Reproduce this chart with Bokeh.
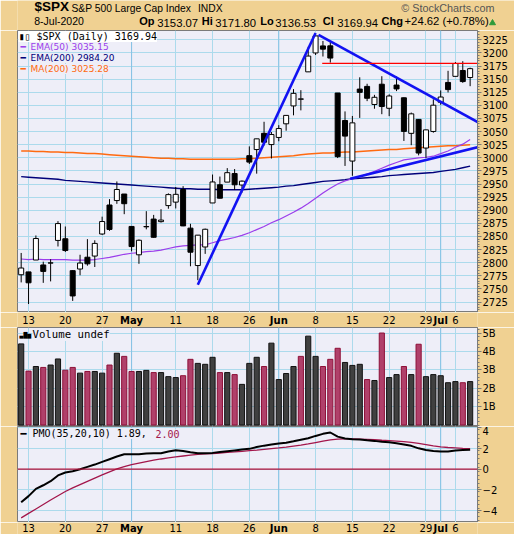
import numpy as np
from bokeh.plotting import figure
from bokeh.layouts import column
from bokeh.models import FixedTicker, Label, Span, Range1d
from bokeh.embed import file_html
from bokeh.resources import INLINE
from bokeh.core.properties import value

# ---------------- data ----------------
opens = [2776.99, 2782.46, 2805.10, 2795.64, 2799.34, 2842.43, 2845.62, 2784.81, 2787.89, 2810.42,
         2812.64, 2854.65, 2909.96, 2918.46, 2930.91, 2869.09, 2815.01, 2868.88, 2883.14, 2878.26,
         2908.83, 2915.46, 2939.50, 2865.86, 2794.54, 2829.95, 2913.86, 2948.59, 2953.63, 2969.95,
         2948.05, 3004.08, 3015.65, 3046.61, 3025.17, 3038.78, 3064.78, 3098.90, 3111.56, 3163.84,
         3199.92, 3213.32, 3213.42, 3123.53, 3071.04, 2993.76, 3131.00, 3136.13, 3101.64, 3140.29,
         3094.42, 3138.70, 3114.40, 3046.60, 3073.20, 3018.59, 3050.20, 3105.92, 3143.64, 3155.29,
         3166.44, 3153.07]
highs = [2818.57, 2782.46, 2851.85, 2801.88, 2806.51, 2879.22, 2868.98, 2785.54, 2815.10, 2844.90,
         2842.71, 2887.72, 2921.15, 2954.86, 2930.91, 2869.09, 2844.24, 2898.23, 2891.11, 2901.92,
         2932.16, 2944.25, 2945.82, 2874.14, 2852.80, 2865.01, 2968.09, 2964.21, 2980.29, 2978.50,
         2956.76, 3021.72, 3036.25, 3068.67, 3049.17, 3062.18, 3081.07, 3130.94, 3128.91, 3211.72,
         3233.13, 3222.71, 3223.27, 3123.53, 3088.42, 3079.76, 3153.45, 3141.16, 3120.00, 3155.53,
         3120.92, 3154.90, 3115.01, 3086.25, 3073.73, 3053.89, 3111.51, 3128.44, 3165.81, 3182.59,
         3184.15, 3171.80]
lows = [2762.36, 2721.17, 2805.10, 2761.54, 2764.32, 2830.88, 2820.43, 2727.10, 2775.95, 2794.26,
        2791.76, 2852.89, 2860.71, 2912.16, 2892.47, 2821.61, 2797.85, 2863.55, 2847.65, 2876.48,
        2902.88, 2903.44, 2869.59, 2793.15, 2766.64, 2816.78, 2913.86, 2922.35, 2953.63, 2938.57,
        2933.59, 2988.17, 2969.75, 3023.40, 2998.61, 3031.54, 3051.64, 3080.96, 3090.41, 3163.84,
        3196.00, 3193.11, 3181.49, 2999.49, 2984.47, 2965.66, 3076.06, 3108.03, 3093.51, 3083.11,
        3079.39, 3127.12, 3032.13, 3024.01, 3004.63, 2999.74, 3047.83, 3101.17, 3124.52, 3155.29,
        3142.93, 3136.53]
closes = [2789.82, 2761.63, 2846.06, 2783.36, 2799.55, 2874.56, 2823.16, 2736.56, 2799.31, 2797.80,
          2836.74, 2878.48, 2863.39, 2939.51, 2912.43, 2830.71, 2842.74, 2868.44, 2848.42, 2881.19,
          2929.80, 2930.32, 2870.12, 2820.00, 2852.50, 2863.70, 2953.91, 2922.94, 2971.61, 2948.51,
          2955.45, 2991.77, 3036.13, 3029.73, 3044.31, 3055.73, 3080.82, 3122.87, 3112.35, 3193.93,
          3232.39, 3207.18, 3190.14, 3002.10, 3041.31, 3066.59, 3124.74, 3113.49, 3115.34, 3097.74,
          3117.86, 3131.29, 3050.33, 3083.76, 3009.05, 3053.24, 3100.29, 3115.86, 3130.01, 3179.72,
          3145.32, 3169.94]
volume_b = [4.41, 2.93, 3.18, 3.13, 3.26, 3.59, 2.98, 3.13, 2.82, 2.91,
            2.91, 2.82, 3.26, 3.90, 3.73, 2.91, 2.91, 2.97, 2.85, 2.85,
            2.63, 2.58, 2.68, 3.57, 3.35, 3.30, 3.68, 2.85, 2.85, 2.74,
            2.21, 3.35, 3.68, 3.18, 4.45, 2.47, 2.80, 3.18, 3.73, 4.83,
            3.73, 3.18, 3.57, 4.17, 3.40, 3.24, 3.30, 2.47, 2.42, 5.00,
            2.58, 2.74, 3.18, 2.74, 4.39, 2.63, 2.74, 2.68, 2.30, 2.36,
            2.30, 2.36]
ema50 = [2807, 2806, 2807, 2806, 2806, 2806, 2806, 2805, 2805, 2805,
         2806, 2808, 2810, 2813, 2816, 2818, 2819, 2821, 2822, 2824,
         2827, 2830, 2832, 2833, 2834, 2834, 2838, 2842, 2845, 2848,
         2852, 2857, 2863, 2869, 2876, 2882, 2889, 2896, 2904, 2913,
         2923, 2933, 2942, 2950, 2956, 2960, 2964, 2969, 2974, 2980,
         2986, 2991, 2996, 2998, 3000, 3001, 3003, 3008, 3013, 3020,
         3026, 3035]
ema200 = [2964, 2963, 2962, 2961, 2960, 2959, 2957, 2956, 2955, 2954,
          2953, 2952, 2951, 2950, 2949, 2948, 2947, 2946, 2945, 2944,
          2943, 2942, 2941, 2941, 2940, 2940, 2940, 2939, 2939, 2939,
          2939, 2940, 2941, 2942, 2943, 2944, 2946, 2947, 2949, 2951,
          2953, 2955, 2956, 2957, 2958, 2960, 2961, 2962, 2963, 2964,
          2966, 2967, 2968, 2969, 2970, 2971, 2972, 2974, 2976, 2978,
          2981, 2984]
ma200 = [3013, 3013, 3012, 3012, 3011, 3011, 3010, 3010, 3009, 3008,
         3008, 3007, 3006, 3005, 3004, 3003, 3002, 3001, 3000, 2999,
         2999, 2998, 2998, 2997, 2997, 2997, 2997, 2997, 2997, 2997,
         2998, 2998, 2999, 3000, 3001, 3002, 3003, 3004, 3006, 3007,
         3008, 3009, 3009, 3010, 3011, 3011, 3012, 3013, 3014, 3015,
         3016, 3016, 3017, 3018, 3019, 3020, 3021, 3022, 3023, 3023,
         3024, 3025]
pmo = [-3.2, -2.6, -1.9, -1.55, -1.16, -0.6, -0.32, -0.2, 0.0, 0.23,
       0.45, 0.71, 0.97, 1.23, 1.45, 1.45, 1.45, 1.52, 1.55, 1.55,
       1.72, 1.84, 1.76, 1.65, 1.55, 1.55, 1.58, 1.66, 1.74, 1.82,
       1.9, 1.97, 2.15, 2.28, 2.38, 2.48, 2.56, 2.7, 2.85, 3.0,
       3.22, 3.42, 3.55, 3.15, 2.97, 2.9, 2.87, 2.8, 2.74, 2.66,
       2.6, 2.5, 2.4, 2.26, 2.02, 1.86, 1.76, 1.72, 1.72, 1.8,
       1.85, 1.89]
pmo_signal = [-4.7, -4.27, -3.84, -3.41, -2.98, -2.56, -2.15, -1.8, -1.48, -1.17,
              -0.86, -0.55, -0.25, 0.03, 0.25, 0.45, 0.6, 0.74, 0.87, 0.99,
              1.1, 1.19, 1.28, 1.36, 1.43, 1.48, 1.52, 1.57, 1.62, 1.67,
              1.73, 1.79, 1.85, 1.92, 1.99, 2.06, 2.14, 2.23, 2.32, 2.44,
              2.58, 2.72, 2.84, 2.9, 2.93, 2.93, 2.91, 2.88, 2.85, 2.8,
              2.76, 2.72, 2.67, 2.6, 2.5, 2.38, 2.26, 2.16, 2.1, 2.06,
              2.02, 2.0]

tick_idx = [1, 6, 11, 15, 21, 26, 31, 35, 40, 45, 50, 55, 57, 59]
tick_text = ["13", "20", "27", "May", "11", "18", "26", "Jun", "8", "15", "22", "29", "Jul", "6"]
month_idx = [15, 35, 57]
price_ticks = list(range(2725, 3226, 25))
vol_ticks = [1, 2, 3, 4, 5]
vol_tick_text = ["1B", "2B", "3B", "4B", "5B"]
pmo_ticks = [-4, -2, 0, 2, 4]

trend_up_x, trend_up_y = [24.0, 40.0], [2758, 3238]
trend_down_x, trend_down_y = [40.4, 62.4], [3234.5, 3065]
trend_low_x, trend_low_y = [44.7, 62.4], [2960, 3021.5]
resist_x, resist_y = [40.9, 63.3], [3180, 3180]

# ---------------- styling ----------------
TAN = "#F0D192"
BG = "#EEEEF8"
GRID = "#ACDAEC"
MGRID = "#86C2E4"
FRAME = "#7A7A7A"
PURPLE = "#9B3DEB"
NAVY = "#00007A"
ORANGE = "#FF6A10"
TBLUE = "#1212F2"
MAROON = "#A3164B"
PINK = "#B0406A"
DARK = "#404040"
AX_FONT = "DejaVu Sans"
MONO = "DejaVu Sans Mono"
LEFT, RIGHT, FW = 17, 37, 460

n = len(closes)
idx = np.arange(n)
o = np.array(opens); c = np.array(closes)
body_lo = np.minimum(o, c)
body_hi = np.maximum(o, c)
body_fill = ["white" if cc >= oo else "black" for oo, cc in zip(opens, closes)]
vol_up = [True] + [closes[i] >= closes[i - 1] for i in range(1, n)]
vol_fill = [DARK if u else PINK for u in vol_up]
vol_line = ["#111111" if u else "#8E1038" for u in vol_up]

XR = Range1d(-0.5, 62.0)


def base_fig(fh, ymin, ymax):
    f = figure(frame_width=FW, frame_height=fh, x_range=XR, y_range=Range1d(ymin, ymax),
               y_axis_location="right", x_axis_location=None,
               min_border_left=LEFT, min_border_right=RIGHT, min_border_top=0, min_border_bottom=0,
               output_backend="svg", toolbar_location=None, title=None)
    f.background_fill_color = BG
    f.border_fill_color = TAN
    f.outline_line_color = FRAME
    f.outline_line_width = 1
    f.xgrid.ticker = FixedTicker(ticks=tick_idx)
    f.xgrid.grid_line_color = GRID
    f.ygrid.grid_line_color = GRID
    for mm in month_idx:
        f.add_layout(Span(location=mm, dimension="height", line_color=MGRID, line_width=1, level="underlay"))
    ya = f.yaxis[0]
    ya.axis_line_color = FRAME
    ya.major_tick_line_color = FRAME
    ya.major_tick_out = 4
    ya.major_tick_in = 0
    ya.minor_tick_line_color = FRAME
    ya.minor_tick_out = 2
    ya.minor_tick_in = 0
    ya.major_label_text_font = AX_FONT
    ya.major_label_text_font_size = "10px"
    ya.major_label_text_color = "#000000"
    ya.major_label_standoff = 1
    return f


def date_strip(h, ymid):
    s = figure(frame_width=FW, frame_height=h, x_range=XR, y_range=Range1d(0, h),
               x_axis_location=None, y_axis_location=None,
               min_border_left=LEFT, min_border_right=RIGHT, min_border_top=0, min_border_bottom=0,
               output_backend="svg", toolbar_location=None, title=None)
    s.background_fill_color = TAN
    s.border_fill_color = TAN
    s.outline_line_color = None
    s.grid.visible = False
    days = [(t, lab) for t, lab in zip(tick_idx, tick_text) if t not in month_idx]
    months = [(t, lab) for t, lab in zip(tick_idx, tick_text) if t in month_idx]
    s.text(x=[t for t, _ in days], y=[ymid] * len(days), text=[lab for _, lab in days],
           text_font=value(AX_FONT), text_font_size="10px", text_align="center",
           text_baseline="middle", text_color="#000000")
    s.text(x=[t for t, _ in months], y=[ymid] * len(months), text=[lab for _, lab in months],
           text_font=value(AX_FONT), text_font_size="10px", text_font_style="bold",
           text_align="center", text_baseline="middle", text_color="#000000")
    return s


# ---------------- header ----------------
hdr = figure(frame_width=LEFT + FW + RIGHT, frame_height=30, x_range=Range1d(0, LEFT + FW + RIGHT),
             y_range=Range1d(30, 0), x_axis_location=None, y_axis_location=None, min_border=0,
             title=None, output_backend="svg", toolbar_location=None)
hdr.background_fill_color = TAN
hdr.border_fill_color = TAN
hdr.outline_line_color = None
hdr.grid.visible = False
HF = value("Liberation Sans")
hdr.text(x=[17], y=[13.5], text=["$SPX"], text_font=HF, text_font_size="13.5px",
         text_font_style="bold", text_color="#000000")
hdr.text(x=[54], y=[13], text=["S&P 500 Large Cap Index"], text_font=HF, text_font_size="10.3px",
         text_color="#000000")
hdr.text(x=[180.5], y=[13], text=["INDX"], text_font=HF, text_font_size="10.3px", text_color="#000000")
hdr.text(x=[477], y=[13], text=["\u00a9 StockCharts.com"], text_font=HF, text_font_size="10.8px",
         text_color="#555555", text_align="right")
hdr.text(x=[16.7], y=[26], text=["8-Jul-2020"], text_font=HF, text_font_size="10.5px", text_color="#000000")
hdr_bold = [(121.7, "Op"), (184.3, "Hi"), (242.7, "Lo"), (305.3, "Cl"), (364, "Chg")]
hdr_vals = [(139.8, "3153.07"), (197.8, "3171.80"), (257.8, "3136.53"), (319.8, "3169.94"),
            (387, "+24.62 (+0.78%)")]
hdr.text(x=[a for a, _ in hdr_bold], y=[26] * 5, text=[b for _, b in hdr_bold], text_font=HF,
         text_font_size="11px", text_font_style="bold", text_color="#000000")
hdr.text(x=[a for a, _ in hdr_vals], y=[26] * 5, text=[b for _, b in hdr_vals], text_font=HF,
         text_font_size="11.3px", text_color="#000000")
hdr.scatter(x=[475], y=[22.5], marker="triangle", size=6, fill_color="#2E9A3A", line_color="#2E9A3A")

# ---------------- price panel ----------------
p = base_fig(282, 2705, 3242.7)
p.yaxis[0].ticker = FixedTicker(ticks=price_ticks,
                                minor_ticks=list(np.arange(2705, 3243, 5.0)))
p.ygrid.ticker = FixedTicker(ticks=price_ticks)
p.line(idx, ma200, line_color=ORANGE, line_width=1.5)
p.line(idx, ema200, line_color=NAVY, line_width=1.4)
p.line(idx, ema50, line_color=PURPLE, line_width=1.2)
p.segment(x0=idx, y0=lows, x1=idx, y1=highs, line_color="#000000", line_width=1)
p.vbar(x=idx, width=0.68, bottom=body_lo, top=body_hi, fill_color=body_fill, line_color="#000000",
       line_width=1)
p.line(trend_up_x, trend_up_y, line_color=TBLUE, line_width=2.6)
p.line(trend_down_x, trend_down_y, line_color=TBLUE, line_width=2.6)
p.line(trend_low_x, trend_low_y, line_color=TBLUE, line_width=2.6)
p.line(resist_x, resist_y, line_color="#FF0000", line_width=1.4)

p.add_layout(Label(x=1, y=276, x_units="screen", y_units="screen", text="\u25ae\u25af $SPX (Daily) 3169.94",
                   text_font=MONO, text_font_size="10px", text_baseline="middle", text_color="#000000",
                   background_fill_color="#FFFFFF"))
leg_rows = [("EMA(50) 3035.15", PURPLE, 265.5), ("EMA(200) 2984.20", NAVY, 254.5),
            ("MA(200) 3025.28", ORANGE, 243.5)]
for txt, col, yy in leg_rows:
    p.add_layout(Label(x=3, y=yy, x_units="screen", y_units="screen", text="\u2501",
                       text_font=AX_FONT, text_font_size="9px", text_baseline="middle",
                       text_color=col))
    p.add_layout(Label(x=13, y=yy, x_units="screen", y_units="screen", text=txt,
                       text_font=AX_FONT, text_font_size="9px", text_baseline="middle",
                       text_color=col, background_fill_color=BG))

strip1 = date_strip(15, 7.5)

# ---------------- volume panel ----------------
v = base_fig(99, -0.08, 5.3)
v.yaxis[0].ticker = FixedTicker(ticks=vol_ticks, minor_ticks=list(np.arange(0, 5.31, 0.2)))
v.yaxis[0].major_label_overrides = {t: s for t, s in zip(vol_ticks, vol_tick_text)}
v.ygrid.ticker = FixedTicker(ticks=vol_ticks)
v.vbar(x=idx, width=0.7, bottom=0, top=volume_b, fill_color=vol_fill, line_color=vol_line, line_width=1)
v.add_layout(Label(x=2, y=92, x_units="screen", y_units="screen",
                   text="\u2583\u2587\u2585", text_font=MONO, text_font_size="6.5px",
                   text_baseline="middle", text_color="#000000"))
v.add_layout(Label(x=15, y=92, x_units="screen", y_units="screen",
                   text="Volume undef", text_font=MONO, text_font_size="10.7px",
                   text_baseline="middle", text_color="#000000", background_fill_color=BG))

# ---------------- PMO panel ----------------
m = base_fig(96, -5.15, 4.13)
m.yaxis[0].ticker = FixedTicker(ticks=pmo_ticks, minor_ticks=list(np.arange(-5.0, 4.2, 0.4)))
m.ygrid.ticker = FixedTicker(ticks=pmo_ticks)
m.add_layout(Span(location=0, dimension="width", line_color="#B0103A", line_width=1.2))
m.line(idx, pmo_signal, line_color=MAROON, line_width=1.3)
m.line(idx, pmo, line_color="#000000", line_width=2)
m.add_layout(Label(x=3, y=89, x_units="screen", y_units="screen", text="\u2501",
                   text_font=MONO, text_font_size="10px", text_baseline="middle", text_color="#000000"))
m.add_layout(Label(x=15, y=89, x_units="screen", y_units="screen", text="PMO(35,20,10) 1.89,",
                   text_font=MONO, text_font_size="10px", text_baseline="middle", text_color="#000000",
                   background_fill_color=BG))
m.add_layout(Label(x=138, y=89, x_units="screen", y_units="screen", text="2.00",
                   text_font=MONO, text_font_size="10px", text_baseline="middle", text_color=MAROON,
                   background_fill_color=BG))

strip2 = date_strip(12, 6.5)

layout = column(hdr, p, strip1, v, m, strip2, spacing=0)
open("out.html", "w").write(file_html(layout, INLINE))
